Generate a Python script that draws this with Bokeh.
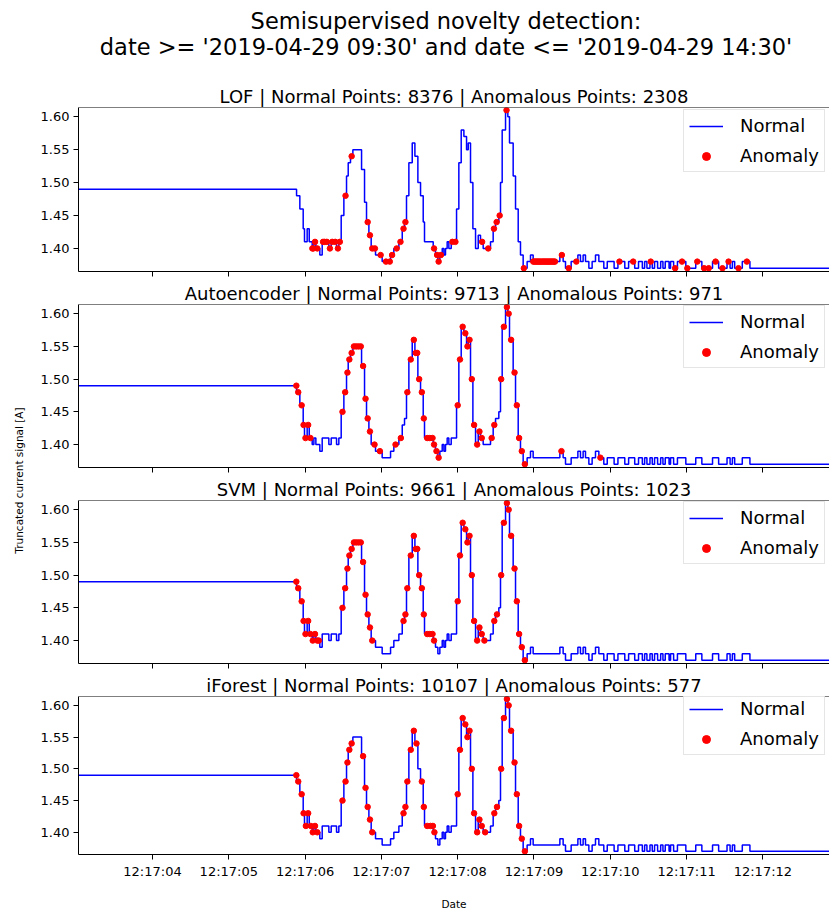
import math
from datetime import datetime, timezone

from bokeh.plotting import figure
from bokeh.layouts import column, row
from bokeh.models import (Range1d, FixedTicker, DatetimeTickFormatter,
                          NumeralTickFormatter, Span)
from bokeh.core.properties import value
from bokeh.embed import file_html
from bokeh.resources import INLINE

# ---------------- data (seconds after 12:17:00) ----------------
main_title_1 = "Semisupervised novelty detection:"
main_title_2 = "date >= '2019-04-29 09:30' and date <= '2019-04-29 14:30'"
models = ["LOF", "Autoencoder", "SVM", "iForest"]
normal_counts = [8376, 9713, 9661, 10107]
anomaly_counts = [2308, 971, 1023, 577]
y_ticks = [1.40, 1.45, 1.50, 1.55, 1.60]
x_tick_seconds = [4, 5, 6, 7, 8, 9, 10, 11, 12]

signal_t = [3.03,
            5.888, 5.931, 5.975, 5.992, 6.027, 6.054, 6.093, 6.115, 6.141, 6.193, 6.224, 6.311, 6.342, 6.412, 6.442,
            6.473, 6.508, 6.543, 6.565, 6.595, 6.626, 6.740, 6.779, 6.805, 6.836, 6.866, 6.923, 7.010, 7.120, 7.163,
            7.229, 7.273, 7.303, 7.329, 7.360, 7.404, 7.439, 7.478, 7.513, 7.548, 7.565, 7.679, 7.709, 7.740, 7.766,
            7.797, 7.819, 7.840, 7.862, 7.884, 7.915, 7.985, 8.015, 8.046, 8.081, 8.116, 8.138, 8.168, 8.199, 8.234,
            8.269, 8.299, 8.334, 8.430, 8.465, 8.496, 8.539, 8.561, 8.583, 8.627, 8.657, 8.679, 8.727, 8.758, 8.793,
            8.823, 8.858, 8.910, 8.954, 8.989, 9.339, 9.382, 9.413, 9.487, 9.575, 9.609, 9.644, 9.675, 9.719, 9.762,
            9.806, 9.850, 9.915, 9.960, 10.05, 10.10, 10.19, 10.24, 10.32, 10.37, 10.42, 10.45, 10.48, 10.52, 10.55,
            10.58, 10.62, 10.66, 10.69, 10.72, 10.77, 10.79, 10.83, 10.88, 10.99, 11.12, 11.20, 11.34, 11.42, 11.53,
            11.57, 11.60, 11.63, 11.73, 11.83, 12.95]
signal_v = [1.49,
            1.48, 1.46, 1.43, 1.41, 1.43, 1.41, 1.40, 1.41, 1.40, 1.39, 1.41, 1.40, 1.41, 1.40, 1.41,
            1.45, 1.48, 1.51, 1.53, 1.54, 1.55, 1.52, 1.47, 1.44, 1.42, 1.40, 1.39, 1.38, 1.39, 1.40,
            1.41, 1.43, 1.44, 1.48, 1.53, 1.56, 1.54, 1.50, 1.48, 1.44, 1.41, 1.40, 1.39, 1.38, 1.39,
            1.40, 1.39, 1.40, 1.41, 1.40, 1.41, 1.46, 1.53, 1.58, 1.57, 1.55, 1.56, 1.50, 1.43, 1.40,
            1.42, 1.41, 1.40, 1.41, 1.43, 1.44, 1.45, 1.50, 1.58, 1.61, 1.60, 1.56, 1.51, 1.46, 1.41,
            1.39, 1.37, 1.38, 1.39, 1.38, 1.39, 1.38, 1.37, 1.38, 1.39, 1.38, 1.39, 1.38, 1.37, 1.38,
            1.39, 1.38, 1.37, 1.38, 1.37, 1.38, 1.37, 1.38, 1.37, 1.38, 1.37, 1.38, 1.37, 1.38, 1.37,
            1.38, 1.37, 1.38, 1.37, 1.38, 1.37, 1.38, 1.37, 1.38, 1.37, 1.38, 1.37, 1.38, 1.37, 1.38,
            1.37, 1.38, 1.37, 1.38, 1.37, 1.37]

lof_t = [6.095, 6.108, 6.130, 6.160, 6.235, 6.255, 6.285, 6.325, 6.355, 6.395, 6.430, 6.455,
         6.530, 6.610, 6.820, 6.850, 6.880, 6.915, 6.990, 7.060, 7.110, 7.140, 7.200, 7.250, 7.290, 7.315,
         7.690, 7.730, 7.750, 7.780, 7.930, 7.970, 8.320, 8.400, 8.475, 8.510, 8.550, 8.640, 8.867,
         8.990, 9.005, 9.020, 9.035, 9.050, 9.065, 9.080, 9.095, 9.110, 9.125,
         9.140, 9.155, 9.170, 9.185, 9.200, 9.215, 9.230, 9.245, 9.260, 9.275,
         9.365, 9.455, 9.555, 10.12, 10.30, 10.53, 10.85, 10.94, 11.01, 11.14, 11.23, 11.29, 11.38,
         11.47, 11.55, 11.68, 11.79]
lof_v = [1.40, 1.40, 1.41, 1.40, 1.41, 1.41, 1.41, 1.40, 1.41, 1.41, 1.40, 1.41,
         1.48, 1.54, 1.44, 1.42, 1.40, 1.40, 1.39, 1.38, 1.38, 1.39, 1.40, 1.41, 1.43, 1.44,
         1.40, 1.39, 1.38, 1.39, 1.41, 1.41, 1.41, 1.40, 1.43, 1.44, 1.45, 1.61, 1.37,
         1.38, 1.38, 1.38, 1.38, 1.38, 1.38, 1.38, 1.38, 1.38, 1.38,
         1.38, 1.38, 1.38, 1.38, 1.38, 1.38, 1.38, 1.38, 1.38, 1.38,
         1.39, 1.37, 1.38, 1.38, 1.38, 1.38, 1.37, 1.38, 1.37, 1.38, 1.37, 1.37, 1.38,
         1.37, 1.38, 1.37, 1.38]

ae_t = [5.885, 5.910, 5.955, 5.980, 6.005, 6.040, 6.070,
        6.490, 6.525, 6.555, 6.580, 6.610, 6.640, 6.670, 6.700, 6.730, 6.760, 6.792, 6.820, 6.850, 6.910, 6.980,
        7.185, 7.255, 7.340, 7.385, 7.425, 7.450, 7.470, 7.495, 7.530, 7.556, 7.600, 7.635, 7.670, 7.690, 7.722, 7.750,
        8.000, 8.030, 8.065, 8.100, 8.128, 8.155, 8.185, 8.215, 8.255, 8.285, 8.315,
        8.445, 8.480, 8.570, 8.605, 8.645, 8.668, 8.700, 8.745, 8.775, 8.805, 8.840, 8.880,
        9.360, 9.870]
ae_v = [1.49, 1.48, 1.46, 1.43, 1.41, 1.43, 1.41,
        1.45, 1.48, 1.51, 1.53, 1.54, 1.55, 1.55, 1.55, 1.55, 1.52, 1.47, 1.44, 1.42, 1.40, 1.39,
        1.40, 1.41, 1.48, 1.53, 1.56, 1.54, 1.54, 1.50, 1.48, 1.44, 1.41, 1.41, 1.41, 1.40, 1.39, 1.38,
        1.46, 1.53, 1.58, 1.57, 1.55, 1.56, 1.50, 1.43, 1.40, 1.42, 1.41,
        1.41, 1.43, 1.50, 1.58, 1.61, 1.60, 1.56, 1.51, 1.46, 1.41, 1.39, 1.37,
        1.39, 1.38]

svm_t = [5.885, 5.910, 5.955, 5.980, 6.005, 6.040, 6.070, 6.100, 6.130, 6.160, 6.180,
         6.490, 6.525, 6.555, 6.580, 6.610, 6.640, 6.670, 6.700, 6.730, 6.760, 6.792, 6.820, 6.850, 6.880,
         7.290, 7.315, 7.340, 7.385, 7.425, 7.450, 7.470, 7.495, 7.530, 7.556, 7.600, 7.635, 7.670, 7.690,
         8.000, 8.030, 8.065, 8.100, 8.128, 8.155, 8.185, 8.215, 8.255, 8.285, 8.315, 8.350,
         8.480, 8.515, 8.570, 8.605, 8.645, 8.668, 8.700, 8.745, 8.775, 8.805, 8.840, 8.880]
svm_v = [1.49, 1.48, 1.46, 1.43, 1.41, 1.43, 1.41, 1.40, 1.41, 1.40, 1.40,
         1.45, 1.48, 1.51, 1.53, 1.54, 1.55, 1.55, 1.55, 1.55, 1.52, 1.47, 1.44, 1.42, 1.40,
         1.43, 1.44, 1.48, 1.53, 1.56, 1.54, 1.54, 1.50, 1.48, 1.44, 1.41, 1.41, 1.41, 1.40,
         1.46, 1.53, 1.58, 1.57, 1.55, 1.56, 1.50, 1.43, 1.40, 1.42, 1.41, 1.40,
         1.43, 1.44, 1.50, 1.58, 1.61, 1.60, 1.56, 1.51, 1.46, 1.41, 1.39, 1.37]

if_t = [5.885, 5.910, 5.955, 5.980, 6.010, 6.040, 6.075, 6.100, 6.130, 6.160,
        6.490, 6.530, 6.555, 6.580, 6.610, 6.760, 6.792, 6.820, 6.850, 6.880,
        7.290, 7.315, 7.340, 7.385, 7.425, 7.460, 7.530, 7.556, 7.600, 7.644, 7.675, 7.695,
        8.000, 8.030, 8.065, 8.100, 8.128, 8.155, 8.185, 8.215, 8.255, 8.285, 8.315, 8.360,
        8.480, 8.515, 8.570, 8.605, 8.645, 8.668, 8.700, 8.745, 8.775, 8.805, 8.840, 8.880]
if_v = [1.49, 1.48, 1.46, 1.43, 1.41, 1.43, 1.41, 1.40, 1.41, 1.40,
        1.45, 1.48, 1.51, 1.53, 1.54, 1.52, 1.47, 1.44, 1.42, 1.40,
        1.43, 1.44, 1.48, 1.53, 1.56, 1.54, 1.48, 1.44, 1.41, 1.41, 1.41, 1.40,
        1.46, 1.53, 1.58, 1.57, 1.55, 1.56, 1.50, 1.43, 1.40, 1.42, 1.41, 1.40,
        1.43, 1.44, 1.50, 1.58, 1.61, 1.60, 1.56, 1.51, 1.46, 1.41, 1.39, 1.37]

anomalies = [(lof_t, lof_v), (ae_t, ae_v), (svm_t, svm_v), (if_t, if_v)]

# ---------------- layout constants ----------------
FONT = "DejaVu Sans"
BASE_MS = datetime(2019, 4, 29, 12, 17, 0, tzinfo=timezone.utc).timestamp() * 1000.0
X0, X1 = 3.03, 12.873
Y0, Y1 = 1.365, 1.614
FRAME_H = 164
HEAD_H = 80
PANEL_W = 799


def ms(secs):
    return [BASE_MS + s * 1000.0 for s in secs]


def bare(fig):
    fig.axis.visible = False
    fig.grid.visible = False
    fig.outline_line_color = None
    fig.title.visible = False


# ---- main (two-line) title ----
head = figure(width=PANEL_W, height=HEAD_H, x_range=Range1d(0, PANEL_W),
              y_range=Range1d(HEAD_H, 0), toolbar_location=None,
              output_backend="svg", min_border=0)
bare(head)
head.text(x=[391, 391], y=[20, 46], text=[main_title_1, main_title_2],
          text_align="center", text_baseline="middle", text_font=value(FONT),
          text_font_size="22.5px", text_color="black")

fmt = "%H:%M:%S"
figs = [head]
for i in range(4):
    top = 27 if i == 0 else 24
    bottom = 53 if i == 3 else 8
    p = figure(width=PANEL_W, height=top + FRAME_H + bottom, x_axis_type="datetime",
               x_range=Range1d(BASE_MS + X0 * 1000, BASE_MS + X1 * 1000),
               y_range=Range1d(Y0, Y1),
               toolbar_location=None, output_backend="svg",
               min_border_left=48, min_border_right=0,
               min_border_top=top, min_border_bottom=bottom)
    p.title.text = (f"{models[i]} | Normal Points: {normal_counts[i]} | "
                    f"Anomalous Points: {anomaly_counts[i]}")
    p.title.align = "center"
    p.title.text_font = FONT
    p.title.text_font_size = "18px"
    p.title.text_font_style = "normal"
    p.title.text_color = "black"
    p.title.standoff = 2

    p.step(ms(signal_t), signal_v, mode="after", line_color="#0000ff",
           line_width=1.5, legend_label="Normal")
    at, av = anomalies[i]
    p.scatter(ms(at), av, size=5.5, color="#ff0000", legend_label="Anomaly")

    p.grid.visible = False
    p.outline_line_color = None
    p.add_layout(Span(location=Y1, dimension="width", line_color="black", line_width=1))

    p.xaxis.ticker = FixedTicker(ticks=ms(x_tick_seconds))
    p.xaxis.formatter = DatetimeTickFormatter(milliseconds=fmt, seconds=fmt, minsec=fmt,
                                              minutes=fmt, hourmin=fmt, hours=fmt)
    p.yaxis.ticker = FixedTicker(ticks=y_ticks)
    p.yaxis.formatter = NumeralTickFormatter(format="0.00")
    for ax in (p.xaxis[0], p.yaxis[0]):
        ax.axis_line_color = "black"
        ax.major_tick_line_color = "black"
        ax.minor_tick_line_color = None
        ax.major_tick_out = 5
        ax.major_tick_in = 0
        ax.major_label_text_font = FONT
        ax.major_label_text_font_size = "13px"
        ax.major_label_text_color = "black"
        ax.major_label_standoff = 4
    if i < 3:
        # shared x axis: tick marks only, no labels
        p.xaxis.major_label_text_color = None
        p.xaxis.major_label_text_font_size = "1px"
        p.xaxis.major_label_standoff = 0
    else:
        p.xaxis.axis_label = "Date"
        p.xaxis.axis_label_text_font = FONT
        p.xaxis.axis_label_text_font_size = "10.5px"
        p.xaxis.axis_label_text_font_style = "normal"
        p.xaxis.axis_label_text_color = "black"
        p.xaxis.axis_label_standoff = 16

    leg = p.legend[0]
    leg.location = (605, 99)
    leg.label_text_font = FONT
    leg.label_text_font_size = "18px"
    leg.label_text_color = "black"
    leg.glyph_width = 34
    leg.glyph_height = 20
    leg.label_height = 20
    leg.label_standoff = 17
    leg.spacing = 9
    leg.padding = 5
    leg.margin = 0
    leg.border_line_color = "#cccccc"
    leg.border_line_width = 1
    leg.background_fill_alpha = 0.8
    figs.append(p)

# ---- shared y-axis label ----
lab = figure(width=30, height=912, x_range=Range1d(0, 30), y_range=Range1d(0, 912),
             toolbar_location=None, output_backend="svg", min_border=0)
bare(lab)
lab.text(x=[18], y=[432], text=["Truncated current signal [A]"], angle=math.pi / 2,
         text_align="center", text_baseline="middle", text_font=value(FONT),
         text_font_size="10.5px", text_color="black")

layout = row(lab, column(*figs, spacing=0), spacing=0)
open("out.html", "w").write(file_html(layout, INLINE))
